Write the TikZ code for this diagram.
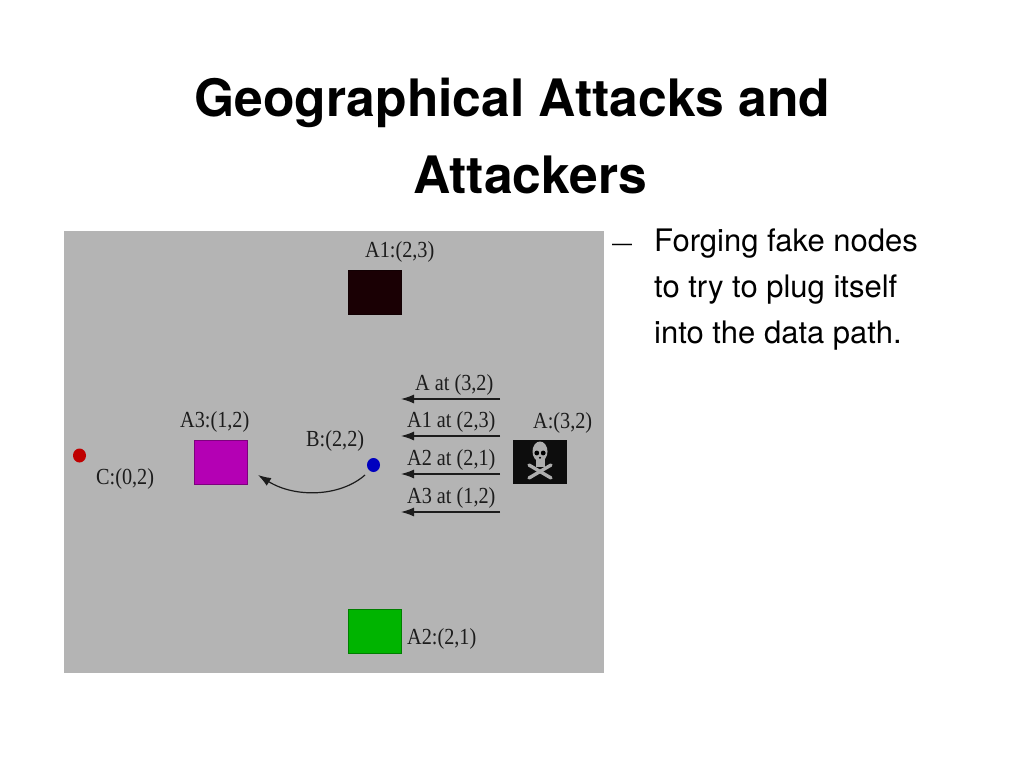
\documentclass[tikz,border=0pt]{standalone}
\usepackage{fontspec}
\setmainfont{TeX Gyre Heros}
\newfontfamily\figfont[FakeStretch=0.88]{Liberation Serif}
\usetikzlibrary{arrows.meta}
\definecolor{panel}{HTML}{B4B4B4}
\definecolor{figink}{HTML}{1C1C1C}
\tikzset{
  title/.style={font=\fontsize{51.6}{51.6}\selectfont\bfseries, text=black, anchor=base, inner sep=0},
  body/.style={font=\fontsize{31}{31}\selectfont, text=black, anchor=base west, inner sep=0},
  dashmark/.style={font=\fontsize{20}{20}\selectfont, text=black, anchor=base west, inner sep=0},
  fig/.style={font=\figfont\fontsize{23}{23}\selectfont, text=figink, anchor=base west, inner sep=0},
  box/.style={draw=#1!70!black, line width=0.8, fill=#1},
  msg/.style={draw=figink, line width=1.2, -{Latex[length=13,width=9]}},
}
\begin{document}
\begin{tikzpicture}[x=1pt,y=-1pt]
\useasboundingbox (0,0) rectangle (1023,767);
\fill[white] (0,0) rectangle (1023,767);
\node[title] (t1) at (512.5,116.5) {Geographical Attacks and};
\node[title] (t2) at (530.5,193.5) {Attackers};
\fill[panel] (64,231) rectangle (604,672.5);
\node[dashmark] (dash) at (612,251) {—};
\node[body] (l1) at (654,252) {Forging fake nodes};
\node[body] (l2) at (654,298) {to try to plug itself};
\node[body] (l3) at (654,344) {into the data path.};
\definecolor{a1c}{HTML}{1A0004}
\definecolor{a3c}{HTML}{B400B4}
\definecolor{a2c}{HTML}{00B400}
\path[box=a1c] (348.5,270.5) rectangle (401.5,314.5);
\path[box=a3c] (194,440.5) rectangle (247.5,484);
\path[box=a2c] (348.5,609) rectangle (401.5,653.5);
\node[fig] (la1) at (365,258) {A1:(2,3)};
\node[fig] (la3) at (180,427) {A3:(1,2)};
\node[fig] (la2) at (407,644) {A2:(2,1)};
\node[fig] (lb) at (306,446) {B:(2,2)};
\node[fig] (lc) at (96,484) {C:(0,2)};
\node[fig] (la) at (533,428) {A:(3,2)};
\node[fig] (m0) at (415,390) {A at (3,2)};
\node[fig] (m1) at (407,427) {A1 at (2,3)};
\node[fig] (m2) at (407,465) {A2 at (2,1)};
\node[fig] (m3) at (407,503) {A3 at (1,2)};
\fill[blue!75!black] (373.5,465) ellipse (6.5 and 7);
\fill[red!75!black] (79.5,455.5) ellipse (6.5 and 7);
\coordinate (s0) at (500,399); \coordinate (e0) at (401,399);
\coordinate (s1) at (500,436); \coordinate (e1) at (401,436);
\coordinate (s2) at (500,474); \coordinate (e2) at (401,474);
\coordinate (s3) at (500,512); \coordinate (e3) at (401,512);
\draw[msg] (s0) -- (e0);
\draw[msg] (s1) -- (e1);
\draw[msg] (s2) -- (e2);
\draw[msg] (s3) -- (e3);
\coordinate (bs) at (365,475); \coordinate (be) at (258,475);
\draw[msg] (bs) .. controls (340,497) and (295,498) .. (be);
% skull
\fill[black!95] (513,440) rectangle (567,484);
\begin{scope}[shift={(540,461)}]
 \draw[line width=3.4,line cap=round,color=black!32] (-11,4) -- (11,17);
 \draw[line width=3.4,line cap=round,color=black!32] (11,4) -- (-11,17);
 \fill[black!32] (0,-9.5) ellipse (7.5 and 10);
 \fill[black!32] (-4.5,-3) rectangle (4.5,6);
 \fill[black] (-3.2,-8) circle (2.4);
 \fill[black] (3.2,-8) circle (2.4);
 \fill[black] (0,-3.2) circle (1.1);
\end{scope}
\end{tikzpicture}
\end{document}
